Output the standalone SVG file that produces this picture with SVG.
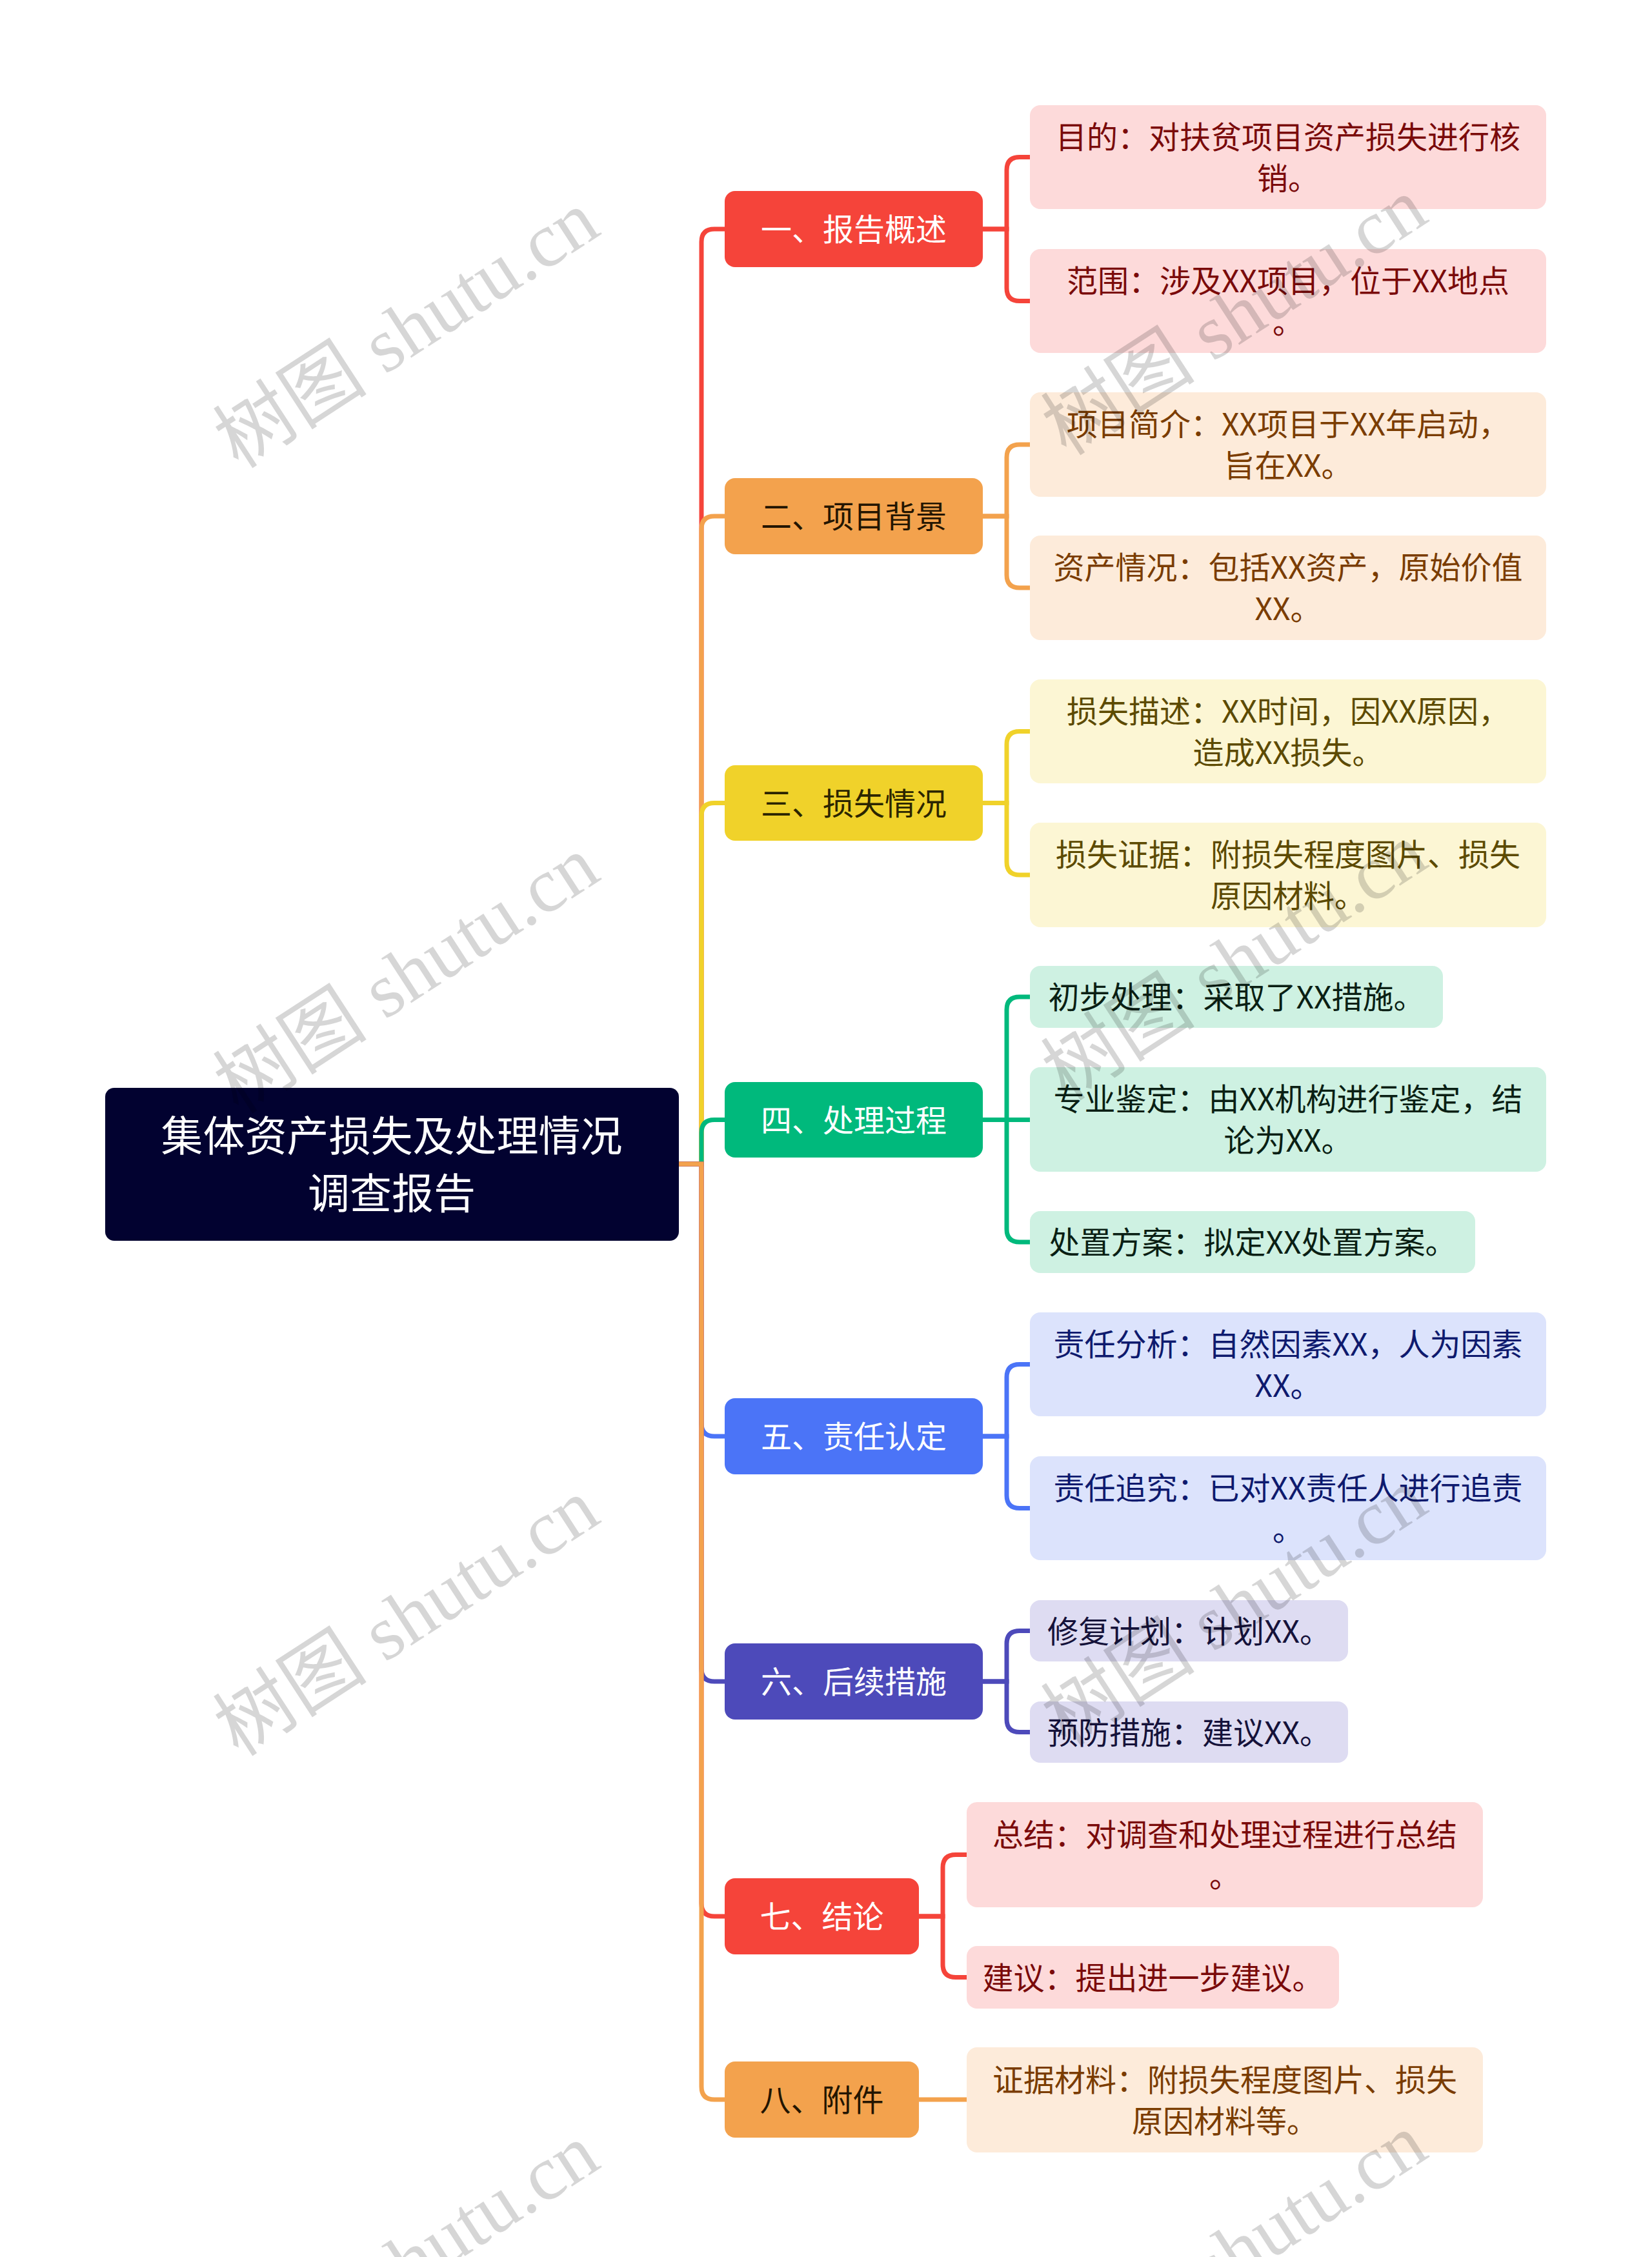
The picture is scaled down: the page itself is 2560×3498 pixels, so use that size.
<svg xmlns="http://www.w3.org/2000/svg" width="2560" height="3498" viewBox="0 0 2560 3498">
<style>
text{font-family:"Noto Sans CJK SC","Noto Sans",sans-serif;text-anchor:middle}
.b{font-size:48px}
.l{font-size:48px}
.w{fill:#fff}
.c{fill:none;stroke-width:7;stroke-linecap:butt}
.wm{font-family:"Liberation Serif","Noto Sans CJK SC",serif;font-size:120px;fill:#000;fill-opacity:0.16;text-anchor:middle}
</style>
<rect width="2560" height="3498" fill="#fff"/>
<g id="connectors">
<path class="c" stroke="#F5443A" d="M1050,1804 H1087 V375 Q1087,355 1107,355 H1123"/>
<path class="c" stroke="#F3A24D" d="M1050,1804 H1087 V820 Q1087,800 1107,800 H1123"/>
<path class="c" stroke="#F0D22A" d="M1050,1804 H1087 V1264.5 Q1087,1244.5 1107,1244.5 H1123"/>
<path class="c" stroke="#00B97C" d="M1050,1804 H1087 V1755.5 Q1087,1735.5 1107,1735.5 H1123"/>
<path class="c" stroke="#4B74F7" d="M1050,1804 H1087 V2206 Q1087,2226 1107,2226 H1123"/>
<path class="c" stroke="#4D4ABA" d="M1050,1804 H1087 V2586 Q1087,2606 1107,2606 H1123"/>
<path class="c" stroke="#F5443A" d="M1050,1804 H1087 V2950 Q1087,2970 1107,2970 H1123"/>
<path class="c" stroke="#F3A24D" d="M1050,1804 H1087 V3234 Q1087,3254 1107,3254 H1123"/>

<path class="c" stroke="#F5443A" d="M1523,355 H1560 V263.5 Q1560,243.5 1580,243.5 H1596"/>
<path class="c" stroke="#F5443A" d="M1523,355 H1560 V446.5 Q1560,466.5 1580,466.5 H1596"/>
<path class="c" stroke="#F3A24D" d="M1523,800 H1560 V709 Q1560,689 1580,689 H1596"/>
<path class="c" stroke="#F3A24D" d="M1523,800 H1560 V891 Q1560,911 1580,911 H1596"/>
<path class="c" stroke="#F0D22A" d="M1523,1244.5 H1560 V1153.5 Q1560,1133.5 1580,1133.5 H1596"/>
<path class="c" stroke="#F0D22A" d="M1523,1244.5 H1560 V1336 Q1560,1356 1580,1356 H1596"/>
<path class="c" stroke="#00B97C" d="M1523,1735.5 H1560 V1565 Q1560,1545 1580,1545 H1596"/>
<path class="c" stroke="#00B97C" d="M1523,1735.5 H1596"/>
<path class="c" stroke="#00B97C" d="M1523,1735.5 H1560 V1905 Q1560,1925 1580,1925 H1596"/>
<path class="c" stroke="#4B74F7" d="M1523,2226 H1560 V2134.5 Q1560,2114.5 1580,2114.5 H1596"/>
<path class="c" stroke="#4B74F7" d="M1523,2226 H1560 V2317.5 Q1560,2337.5 1580,2337.5 H1596"/>
<path class="c" stroke="#4D4ABA" d="M1523,2606 H1560 V2547.5 Q1560,2527.5 1580,2527.5 H1596"/>
<path class="c" stroke="#4D4ABA" d="M1523,2606 H1560 V2664.5 Q1560,2684.5 1580,2684.5 H1596"/>
<path class="c" stroke="#F5443A" d="M1424,2970 H1461 V2894.5 Q1461,2874.5 1481,2874.5 H1498"/>
<path class="c" stroke="#F5443A" d="M1424,2970 H1461 V3044.5 Q1461,3064.5 1481,3064.5 H1498"/>
<path class="c" stroke="#F3A24D" d="M1424,3254 H1498"/>
</g>

<g id="root">
<rect x="163" y="1686" width="889" height="237" rx="14" fill="#020230"/>
<text x="607" y="1784" font-size="65" class="w">集体资产损失及处理情况</text>
<text x="607" y="1873" font-size="65" class="w">调查报告</text>
</g>

<g id="b1">
<rect x="1123" y="296" width="400" height="118" rx="16" fill="#F5443A"/>
<text class="b w" x="1323" y="373">一、报告概述</text>
</g>
<g id="b1a">
<rect x="1596" y="163" width="800" height="161" rx="16" fill="#FDDADA"/>
<text class="l" fill="#7A0A0A" x="1996" y="229.5">目的：对扶贫项目资产损失进行核</text>
<text class="l" fill="#7A0A0A" x="1996" y="293.5">销。</text>
</g>
<g id="b1b">
<rect x="1596" y="386" width="800" height="161" rx="16" fill="#FDDADA"/>
<text class="l" fill="#7A0A0A" x="1996" y="452.5">范围：涉及XX项目，位于XX地点</text>
<text class="l" fill="#7A0A0A" x="1996" y="516.5">。</text>
</g>

<g id="b2">
<rect x="1123" y="741" width="400" height="118" rx="16" fill="#F3A24D"/>
<text class="b" fill="#231500" x="1323" y="818">二、项目背景</text>
</g>
<g id="b2a">
<rect x="1596" y="608" width="800" height="162" rx="16" fill="#FDEBDA"/>
<text class="l" fill="#7A3C00" x="1996" y="675">项目简介：XX项目于XX年启动，</text>
<text class="l" fill="#7A3C00" x="1996" y="739">旨在XX。</text>
</g>
<g id="b2b">
<rect x="1596" y="830" width="800" height="162" rx="16" fill="#FDEBDA"/>
<text class="l" fill="#7A3C00" x="1996" y="897">资产情况：包括XX资产，原始价值</text>
<text class="l" fill="#7A3C00" x="1996" y="961">XX。</text>
</g>

<g id="b3">
<rect x="1123" y="1186" width="400" height="117" rx="16" fill="#F0D22A"/>
<text class="b" fill="#2B2500" x="1323" y="1262.5">三、损失情况</text>
</g>
<g id="b3a">
<rect x="1596" y="1053" width="800" height="161" rx="16" fill="#FCF6D4"/>
<text class="l" fill="#5C4A00" x="1996" y="1119.5">损失描述：XX时间，因XX原因，</text>
<text class="l" fill="#5C4A00" x="1996" y="1183.5">造成XX损失。</text>
</g>
<g id="b3b">
<rect x="1596" y="1275" width="800" height="162" rx="16" fill="#FCF6D4"/>
<text class="l" fill="#5C4A00" x="1996" y="1342">损失证据：附损失程度图片、损失</text>
<text class="l" fill="#5C4A00" x="1996" y="1406">原因材料。</text>
</g>

<g id="b4">
<rect x="1123" y="1677" width="400" height="117" rx="16" fill="#00B97C"/>
<text class="b w" x="1323" y="1753.5">四、处理过程</text>
</g>
<g id="b4a">
<rect x="1596" y="1497" width="640" height="96" rx="16" fill="#CEF1E2"/>
<text class="l" fill="#0A1F14" x="1916" y="1563">初步处理：采取了XX措施。</text>
</g>
<g id="b4b">
<rect x="1596" y="1654" width="800" height="162" rx="16" fill="#CEF1E2"/>
<text class="l" fill="#0A1F14" x="1996" y="1721">专业鉴定：由XX机构进行鉴定，结</text>
<text class="l" fill="#0A1F14" x="1996" y="1785">论为XX。</text>
</g>
<g id="b4c">
<rect x="1596" y="1877" width="690" height="96" rx="16" fill="#CEF1E2"/>
<text class="l" fill="#0A1F14" x="1941" y="1943">处置方案：拟定XX处置方案。</text>
</g>

<g id="b5">
<rect x="1123" y="2167" width="400" height="118" rx="16" fill="#4B74F7"/>
<text class="b w" x="1323" y="2244">五、责任认定</text>
</g>
<g id="b5a">
<rect x="1596" y="2034" width="800" height="161" rx="16" fill="#DCE3FC"/>
<text class="l" fill="#0E1A6E" x="1996" y="2100.5">责任分析：自然因素XX，人为因素</text>
<text class="l" fill="#0E1A6E" x="1996" y="2164.5">XX。</text>
</g>
<g id="b5b">
<rect x="1596" y="2257" width="800" height="161" rx="16" fill="#DCE3FC"/>
<text class="l" fill="#0E1A6E" x="1996" y="2323.5">责任追究：已对XX责任人进行追责</text>
<text class="l" fill="#0E1A6E" x="1996" y="2387.5">。</text>
</g>

<g id="b6">
<rect x="1123" y="2547" width="400" height="118" rx="16" fill="#4D4ABA"/>
<text class="b w" x="1323" y="2624">六、后续措施</text>
</g>
<g id="b6a">
<rect x="1596" y="2480" width="493" height="95" rx="16" fill="#DEDCF2"/>
<text class="l" fill="#15123A" x="1842.5" y="2545.5">修复计划：计划XX。</text>
</g>
<g id="b6b">
<rect x="1596" y="2637" width="493" height="95" rx="16" fill="#DEDCF2"/>
<text class="l" fill="#15123A" x="1842.5" y="2702.5">预防措施：建议XX。</text>
</g>

<g id="b7">
<rect x="1123" y="2911" width="301" height="118" rx="16" fill="#F5443A"/>
<text class="b w" x="1273.5" y="2988">七、结论</text>
</g>
<g id="b7a">
<rect x="1498" y="2793" width="800" height="163" rx="16" fill="#FDDADA"/>
<text class="l" fill="#7A0A0A" x="1898" y="2860.5">总结：对调查和处理过程进行总结</text>
<text class="l" fill="#7A0A0A" x="1898" y="2924.5">。</text>
</g>
<g id="b7b">
<rect x="1498" y="3016" width="577" height="97" rx="16" fill="#FDDADA"/>
<text class="l" fill="#7A0A0A" x="1786.5" y="3082.5">建议：提出进一步建议。</text>
</g>

<g id="b8">
<rect x="1123" y="3195" width="301" height="118" rx="16" fill="#F3A24D"/>
<text class="b" fill="#231500" x="1273.5" y="3272">八、附件</text>
</g>
<g id="b8a">
<rect x="1498" y="3173" width="800" height="163" rx="16" fill="#FDEBDA"/>
<text class="l" fill="#7A3C00" x="1898" y="3240.5">证据材料：附损失程度图片、损失</text>
<text class="l" fill="#7A3C00" x="1898" y="3304.5">原因材料等。</text>
</g>

<g id="watermarks">
<text class="wm" transform="translate(652,545) rotate(-33)">树图 shutu.cn</text>
<text class="wm" transform="translate(652,1545) rotate(-33)">树图 shutu.cn</text>
<text class="wm" transform="translate(652,2541) rotate(-33)">树图 shutu.cn</text>
<text class="wm" transform="translate(652,3541) rotate(-33)">树图 shutu.cn</text>
<text class="wm" transform="translate(1935,525) rotate(-33)">树图 shutu.cn</text>
<text class="wm" transform="translate(1935,1525) rotate(-33)">树图 shutu.cn</text>
<text class="wm" transform="translate(1935,2525) rotate(-33)">树图 shutu.cn</text>
<text class="wm" transform="translate(1935,3525) rotate(-33)">树图 shutu.cn</text>
</g>
</svg>
